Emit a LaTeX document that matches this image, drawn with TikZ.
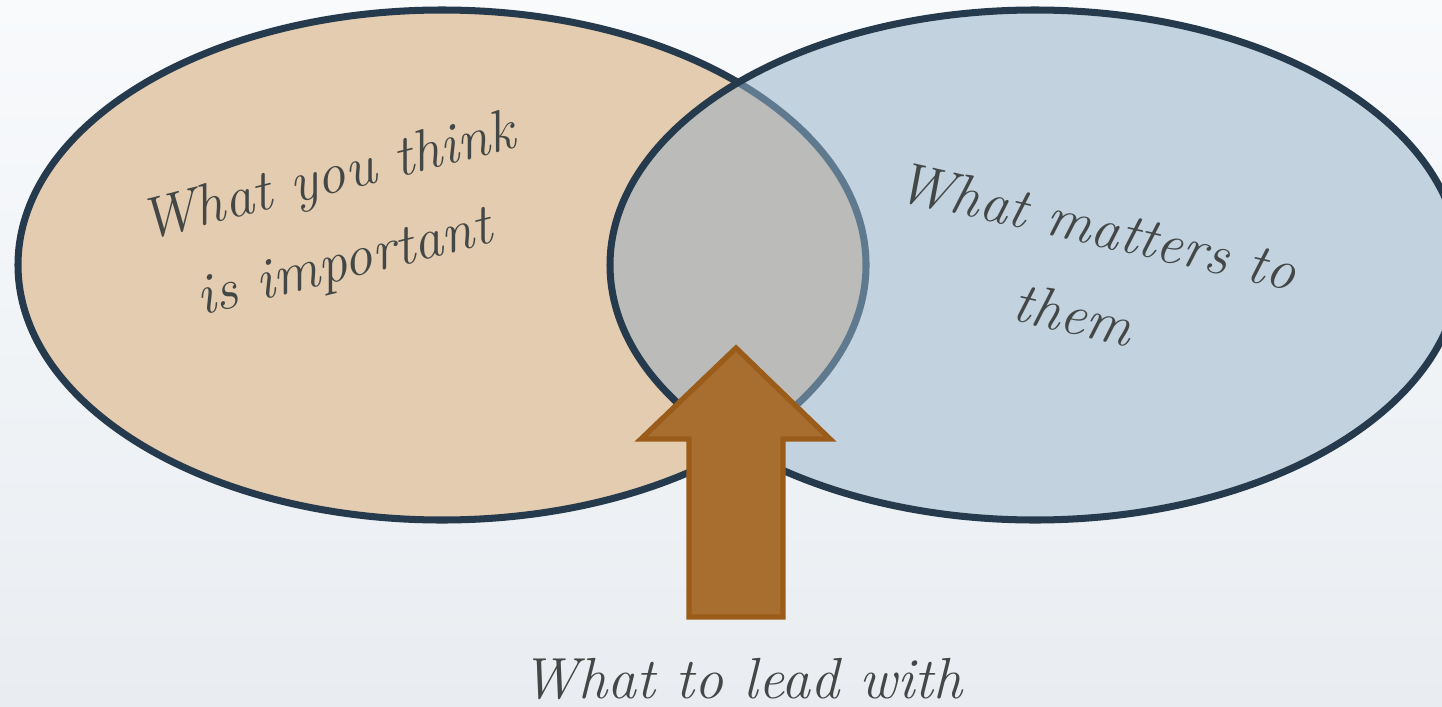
\documentclass[tikz,border=0pt]{standalone}
\usepackage{xcolor}
\definecolor{bgtop}{HTML}{F8FAFC}
\definecolor{bgbot}{HTML}{E9EDF1}
\definecolor{tan}{HTML}{E4CCB0}
\definecolor{bluef}{HTML}{C3D2DF}
\definecolor{mid}{HTML}{BBBCB9}
\definecolor{edge}{HTML}{253A4C}
\definecolor{edgelight}{HTML}{5F7A8F}
\definecolor{arrowf}{HTML}{A86E30}
\definecolor{arrowd}{HTML}{9A5C18}
\definecolor{txt}{HTML}{434847}
\tikzset{
  ring/.style={line width=4pt, draw=edge},
  label/.style={text=txt, font=\fontsize{33}{40}\selectfont\itshape, inner sep=0pt},
}
\begin{document}
\begin{tikzpicture}[x=0.02cm,y=-0.02cm]
\useasboundingbox (0,0) rectangle (1442,706);
\shade[top color=bgtop, bottom color=bgbot] (0,0) rectangle (1442,706);
\begin{scope}
\clip (0,0) rectangle (1442,706);
% left ellipse
\fill[tan] (442,265) ellipse [x radius=424, y radius=255];
\draw[ring] (442,265) ellipse [x radius=424, y radius=255];
% right ellipse fill
\fill[bluef] (1035,265) ellipse [x radius=425, y radius=255];
% intersection
\begin{scope}
\clip (442,265) ellipse [x radius=424, y radius=255];
\fill[mid] (1035,265) ellipse [x radius=425, y radius=255];
\end{scope}
\begin{scope}
\clip (1035,265) ellipse [x radius=427, y radius=257];
\draw[line width=4pt, draw=edgelight] (442,265) ellipse [x radius=424, y radius=255];
\end{scope}
\draw[ring] (1035,265) ellipse [x radius=425, y radius=255];
\end{scope}
% arrow
\node[coordinate] (tip) at (736,348) {};
\draw[fill=arrowf, draw=arrowd, line width=3pt, line join=miter]
  (tip) -- (830,439) -- (783,439) -- (783,617) -- (689,617) -- (689,439) -- (641,439) -- cycle;
% labels
\node[label, rotate=14] (l1) at (328,180) {What you think};
\node[label, rotate=14] (l2) at (345,266) {is important};
\node[label, rotate=-13] (r1) at (1097,226) {What matters to};
\node[label, rotate=-13] (r2) at (1074,314) {them};
\node[label, anchor=base] (b) at (742,698) {What to lead with};
\end{tikzpicture}
\end{document}
